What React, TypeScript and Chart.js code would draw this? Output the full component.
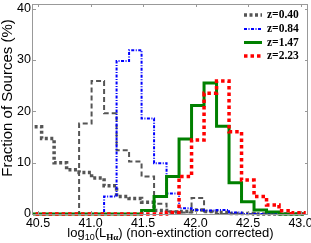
import React, { useEffect, useRef } from "react";
import { Chart, registerables } from "chart.js";
Chart.register(...registerables);

// Histogram bin edges (log10 L_Halpha)
const binEdges = [40.415, 40.534, 40.653, 40.772, 40.891, 41.010, 41.129, 41.248, 41.367, 41.486, 41.605, 41.724, 41.843, 41.962, 42.081, 42.200, 42.319, 42.438, 42.557, 42.676, 42.795, 42.914, 43.033];
// Fraction of sources (%) per bin
const fracZ040 = [17.0, 14.7, 10.0, 8.6, 8.1, 7.0, 5.5, 3.4, 3.0, 2.3, 0.7, 0.4, 0.5, 0.8, 0.5, 0.3, 0.1, 0.1, 0, 0, 0, 0];
const fracZ040Alt = [0, 0, 0, 0, 17.6, 25.9, 19.6, 12.4, 10.2, 7.3, 2.0, 0.5, 0.3, 3.1, 0.5, 0, 0, 0, 0, 0, 0, 0];
const fracZ084 = [0, 0, 0, 0, 0, 0, 3.4, 29.8, 31.9, 18.6, 9.9, 4.0, 1.1, 0.8, 0.7, 0.8, 0.3, 0, 0, 0, 0, 0];
const fracZ147 = [0, 0, 0, 0, 0, 0, 0, 0, 0, 0.7, 3.4, 7.3, 14.6, 21.1, 25.5, 17.1, 6.1, 2.4, 0.8, 0.4, 0, 0];
const fracZ223 = [0, 0, 0, 0, 0, 0, 0, 0, 0, 0, 0, 0.3, 7.3, 14.4, 23.5, 25.9, 16.0, 6.6, 3.4, 1.75, 0.65, 0.25];

const xTicks = [40.5, 41.0, 41.5, 42.0, 42.5, 43.0];
const yTicks = [0, 10, 20, 30, 40];
const legendLabels = ["z=0.40", "z=0.84", "z=1.47", "z=2.23"];
const yTitle = "Fraction of Sources (%)";

function stepOutline(values: number[]) {
  const pts: { x: number; y: number }[] = [{ x: binEdges[0], y: 0 }];
  values.forEach((v, i) => pts.push({ x: binEdges[i], y: v }));
  const n = values.length;
  pts.push({ x: binEdges[n], y: values[n - 1] });
  pts.push({ x: binEdges[n], y: 0 });
  return pts;
}

const SANS = "'Liberation Sans', Arial, sans-serif";
const SERIF = "'Liberation Serif', 'Times New Roman', serif";

export default function App() {
  const ref = useRef<HTMLCanvasElement>(null);
  useEffect(() => {
    document.body.style.margin = "0";
    const canvas = ref.current!;

    const styles = [
      { color: "#555555", width: 3.5, dash: [3, 2.5] },
      { color: "#0000ff", width: 2, dash: [3, 1.5, 1, 1.5] },
      { color: "#008000", width: 3, dash: [] as number[] },
      { color: "#ff0000", width: 3.5, dash: [3.5, 3] },
    ];

    const framePlugin = {
      id: "frame",
      afterDraw(chart: any) {
        const { ctx, chartArea: a, scales } = chart;
        ctx.save();
        ctx.strokeStyle = "#999999";
        ctx.lineWidth = 1;
        ctx.setLineDash([]);
        ctx.strokeRect(a.left - 0.5, a.top + 0.5, a.right - a.left, a.bottom - a.top);
        ctx.beginPath();
        const tl = 3;
        xTicks.forEach((v) => {
          const x = Math.round(scales.x.getPixelForValue(v)) + 0.5;
          ctx.moveTo(x, a.bottom);
          ctx.lineTo(x, a.bottom - tl);
          ctx.moveTo(x, a.top);
          ctx.lineTo(x, a.top + tl);
        });
        yTicks.forEach((v) => {
          const y = Math.round(scales.y.getPixelForValue(v)) + 0.5;
          ctx.moveTo(a.left, y);
          ctx.lineTo(a.left + tl, y);
          ctx.moveTo(a.right, y);
          ctx.lineTo(a.right - tl, y);
        });
        ctx.stroke();
        ctx.restore();
      },
    };

    const textPlugin = {
      id: "texts",
      afterDraw(chart: any) {
        const { ctx, chartArea: a } = chart;
        ctx.save();
        // legend
        const rows = [15, 29, 42.5, 56];
        styles.forEach((s, i) => {
          ctx.strokeStyle = s.color;
          ctx.lineWidth = s.width;
          ctx.setLineDash(s.dash);
          ctx.beginPath();
          ctx.moveTo(244, rows[i]);
          ctx.lineTo(262, rows[i]);
          ctx.stroke();
          ctx.setLineDash([]);
          ctx.fillStyle = "#000";
          ctx.font = `bold 11.5px ${SERIF}`;
          ctx.textAlign = "left";
          ctx.textBaseline = "middle";
          ctx.fillText(legendLabels[i], 267, rows[i] + 0.5);
        });
        // y title
        ctx.save();
        ctx.translate(8, 98);
        ctx.rotate(-Math.PI / 2);
        ctx.font = `15px ${SANS}`;
        ctx.textAlign = "center";
        ctx.textBaseline = "middle";
        ctx.fillStyle = "#000";
        ctx.fillText(yTitle, 0, 0);
        ctx.restore();
        // x title with subscripts
        const parts = [
          { t: "log", f: `13px ${SANS}`, dy: 0 },
          { t: "10", f: `9px ${SANS}`, dy: 3 },
          { t: "(L", f: `13px ${SANS}`, dy: 0 },
          { t: "Hα", f: `bold 9px ${SERIF}`, dy: 3 },
          { t: ") (non-extinction corrected)", f: `13px ${SANS}`, dy: 0 },
        ];
        let total = 0;
        parts.forEach((p) => {
          ctx.font = p.f;
          total += ctx.measureText(p.t).width;
        });
        let x = (a.left + a.right) / 2 - total / 2;
        const base = 237;
        ctx.textAlign = "left";
        ctx.textBaseline = "alphabetic";
        parts.forEach((p) => {
          ctx.font = p.f;
          ctx.fillText(p.t, x, base + p.dy);
          x += ctx.measureText(p.t).width;
        });
        ctx.restore();
      },
    };

    const ds = (vals: number[], color: string, width: number, dash: number[], order: number) => ({
      data: stepOutline(vals),
      borderColor: color,
      borderWidth: width,
      borderDash: dash,
      borderCapStyle: "butt",
      borderJoinStyle: "miter",
      stepped: "before",
      pointRadius: 0,
      fill: false,
      order,
      clip: { left: 0, right: 0, top: 5, bottom: 5 },
    });

    const chart = new Chart(canvas, {
      type: "line",
      data: {
        datasets: [
          ds(fracZ040Alt, "#555555", 2, [5, 3], 4) as any,
          ds(fracZ040, styles[0].color, styles[0].width, styles[0].dash, 3),
          ds(fracZ084, styles[1].color, styles[1].width, styles[1].dash, 2),
          ds(fracZ147, styles[2].color, styles[2].width, styles[2].dash, 1),
          ds(fracZ223, styles[3].color, styles[3].width, styles[3].dash, 0),
        ],
      },
      options: {
        responsive: false,
        animation: false,
        devicePixelRatio: 1,
        layout: { padding: { top: 4, right: 3, left: 0, bottom: 0 } },
        plugins: { legend: { display: false }, tooltip: { enabled: false } },
        scales: {
          x: {
            type: "linear",
            min: 40.452,
            max: 43.071,
            grid: { display: false, drawTicks: false },
            border: { display: false },
            ticks: {
              color: "#000",
              font: { family: SANS, size: 12.5 },
              padding: 2,
              maxRotation: 0,
              autoSkip: false,
              callback: (v: any) => Number(v).toFixed(1),
            },
            afterBuildTicks: (s: any) => {
              s.ticks = xTicks.map((v) => ({ value: v }));
            },
            afterFit: (s: any) => {
              s.height = 29;
              s.paddingLeft = 0;
              s.paddingRight = 0;
            },
          },
          y: {
            type: "linear",
            min: 0,
            max: 40.88,
            grid: { display: false, drawTicks: false },
            border: { display: false },
            ticks: {
              color: "#000",
              font: { family: SANS, size: 12.5 },
              padding: 2,
              autoSkip: false,
              callback: (v: any) => String(v),
            },
            afterBuildTicks: (s: any) => {
              s.ticks = yTicks.map((v) => ({ value: v }));
            },
            afterFit: (s: any) => {
              s.width = 33;
              s.paddingTop = 0;
              s.paddingBottom = 0;
            },
          },
        },
      } as any,
      plugins: [framePlugin, textPlugin],
    });
    return () => chart.destroy();
  }, []);
  return (
    <div style={{ width: 311, height: 243, position: "relative" }}>
      <canvas ref={ref} width={311} height={243} style={{ display: "block" }} />
    </div>
  );
}
